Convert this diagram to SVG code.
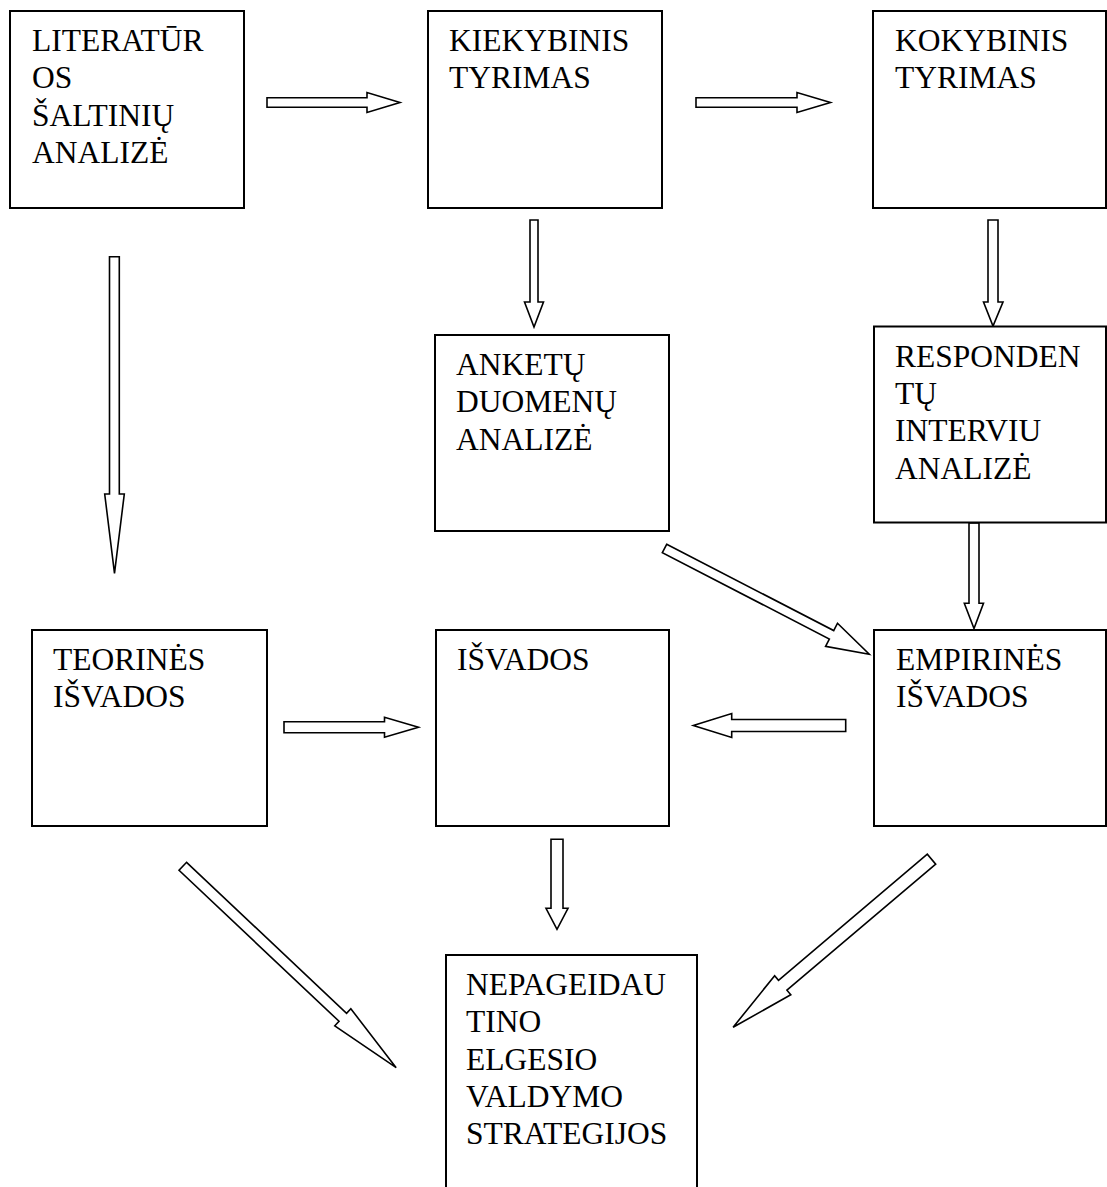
<svg xmlns="http://www.w3.org/2000/svg" width="1107" height="1187" viewBox="0 0 1107 1187">
<style>
.box{fill:#fff;stroke:#000;stroke-width:2}
.arr{fill:#fff;stroke:#000;stroke-width:1.6;stroke-linejoin:miter}
</style>
<rect width="1107" height="1187" fill="#fff"/>
<g id="connectors">
<polygon class="arr" points="267,97.7 367,97.7 367,92.5 400,102.5 367,112.5 367,107.3 267,107.3"/>
<polygon class="arr" points="696,97.7 797,97.7 797,92.5 830.5,102.5 797,112.5 797,107.3 696,107.3"/>
<polygon class="arr" points="530,220 538,220 538,302 543.5,302 534,327 524.5,302 530,302"/>
<polygon class="arr" points="988,220 998,220 998,302 1003,302 993,326 983.5,302 988,302"/>
<polygon class="arr" points="109.5,256.7 119.3,256.7 119.3,494 124.3,494 114.5,573.3 104.7,494 109.5,494"/>
<polygon class="arr" transform="translate(664.5,548.5) rotate(27.32)" points="0,-4.75 188,-4.75 188,-13 230.5,0 188,13 188,4.75 0,4.75"/>
<polygon class="arr" points="969,523 979,523 979,603.3 983.5,603.3 974,628.5 964.3,603.3 969,603.3"/>
<polygon class="arr" points="845.7,719.5 731.7,719.5 731.7,713.5 693.3,725.5 731.7,737.5 731.7,731.5 845.7,731.5"/>
<polygon class="arr" points="284,721.8 384.5,721.8 384.5,717.3 418.5,727.3 384.5,737.3 384.5,732.7 284,732.7"/>
<polygon class="arr" points="551,839.3 563,839.3 563,908.3 568,908.3 557,929.3 546,908.3 551,908.3"/>
<polygon class="arr" transform="translate(182.8,866.3) rotate(43.34)" points="0,-5.5 220,-5.5 220,-11.7 293.4,0 220,11.7 220,5.5 0,5.5"/>
<polygon class="arr" transform="translate(931.5,859.2) rotate(139.73)" points="0,-6.5 195,-6.5 195,-12.5 260,0 195,12.5 195,6.5 0,6.5"/>
</g>
<g font-family="Liberation Serif, DejaVu Serif, serif" font-size="31.5" fill="#000">
<g id="n-literaturos">
<rect class="box" x="10" y="11" width="234" height="197"/>
<text x="32" y="51">LITERATŪR</text>
<text x="32" y="88.3">OS</text>
<text x="32" y="125.6">ŠALTINIŲ</text>
<text x="32" y="162.9">ANALIZĖ</text>
</g>
<g id="n-kiekybinis">
<rect class="box" x="428" y="11" width="234" height="197"/>
<text x="449" y="51">KIEKYBINIS</text>
<text x="449" y="88.3">TYRIMAS</text>
</g>
<g id="n-kokybinis">
<rect class="box" x="873" y="11" width="233" height="197"/>
<text x="895" y="51">KOKYBINIS</text>
<text x="895" y="88.3">TYRIMAS</text>
</g>
<g id="n-anketu">
<rect class="box" x="435" y="335" width="234" height="196"/>
<text x="456" y="375">ANKETŲ</text>
<text x="456" y="412.3">DUOMENŲ</text>
<text x="456" y="449.6">ANALIZĖ</text>
</g>
<g id="n-respondentu">
<rect class="box" x="874" y="326.5" width="232" height="196"/>
<text x="895" y="366.7">RESPONDEN</text>
<text x="895" y="404">TŲ</text>
<text x="895" y="441.3">INTERVIU</text>
<text x="895" y="478.6">ANALIZĖ</text>
</g>
<g id="n-teorines">
<rect class="box" x="32" y="630" width="235" height="196"/>
<text x="53" y="669.5">TEORINĖS</text>
<text x="53" y="706.8">IŠVADOS</text>
</g>
<g id="n-isvados">
<rect class="box" x="436" y="630" width="233" height="196"/>
<text x="457" y="669.5">IŠVADOS</text>
</g>
<g id="n-empirines">
<rect class="box" x="874" y="630" width="232" height="196"/>
<text x="896" y="669.5">EMPIRINĖS</text>
<text x="896" y="706.8">IŠVADOS</text>
</g>
<g id="n-nepageidautino">
<rect class="box" x="446" y="955" width="251" height="260"/>
<text x="466" y="995">NEPAGEIDAU</text>
<text x="466" y="1032.3">TINO</text>
<text x="466" y="1069.6">ELGESIO</text>
<text x="466" y="1106.9">VALDYMO</text>
<text x="466" y="1144.2">STRATEGIJOS</text>
</g>
</g>
</svg>
